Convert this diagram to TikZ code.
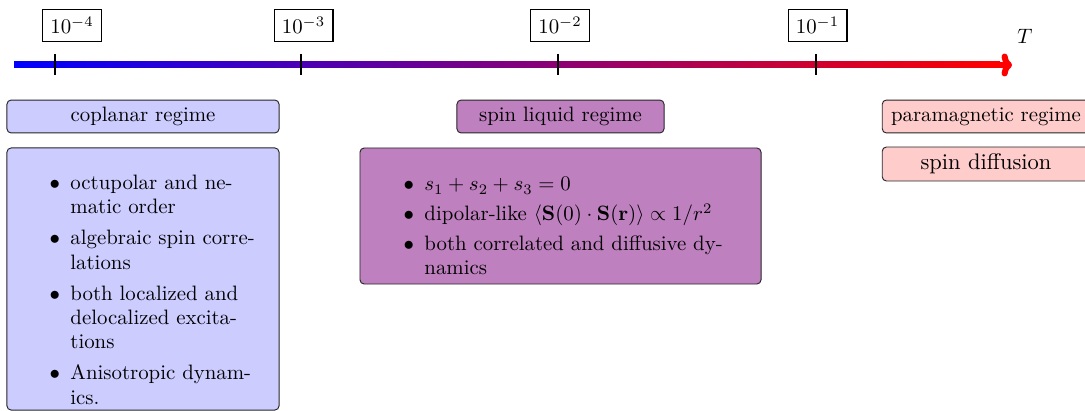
\documentclass[tikz,border=0pt]{standalone}
\usetikzlibrary{arrows.meta}
\definecolor{copl}{RGB}{204,204,255}
\definecolor{sliq}{RGB}{191,128,191}
\definecolor{para}{RGB}{255,204,204}
\newenvironment{featlist}[1]{\raggedright\begin{list}{$\bullet$}{\setlength{\leftmargin}{0pt}\setlength{\labelwidth}{1em}\setlength{\labelsep}{0.5em}\setlength{\itemsep}{#1}\setlength{\parsep}{0pt}\setlength{\topsep}{0pt}\setlength{\partopsep}{0pt}\setlength{\itemindent}{0pt}\setlength{\listparindent}{0pt}}}{\end{list}}
\tikzset{
  x=0.48pt, y=-0.48pt,
  tickmark/.style={line width=1.3pt, black},
  explabel/.style={draw, line width=0.5pt, minimum width=28.3pt, minimum height=15.8pt, inner sep=0pt, font=\fontsize{10}{12}\selectfont},
  regbox/.style={draw=black!85, line width=0.45pt, rounded corners=2pt, inner sep=0pt, font=\fontsize{10}{12}\selectfont},
  bodytext/.style={anchor=base west, inner sep=0pt, align=left},
}
\begin{document}
\begin{tikzpicture}
\useasboundingbox (0,0) rectangle (1085,411);
% temperature axis
\coordinate (ax0) at (14,65);
\coordinate (ax1) at (1000,65);
\coordinate (axend) at (1012,65);
\shade[left color=blue, right color=red] (14,62) rectangle (1000,68);
\draw[red, line width=2.9pt, -{To[length=5pt,width=11pt]}] (990,65) -- (axend);
\node (tl) at (1025,36) {$T$};
% ticks
\draw[tickmark] (55,54) -- (55,75);
\draw[tickmark] (301,54) -- (301,75);
\draw[tickmark] (558,54) -- (558,75);
\draw[tickmark] (816,54) -- (816,75);
% tick labels
\node[explabel] (l4) at (72,25.5) {$10^{-4}$};
\node[explabel] (l3) at (303.5,25.5) {$10^{-3}$};
\node[explabel] (l2) at (560,25.5) {$10^{-2}$};
\node[explabel] (l1) at (817.5,25.5) {$10^{-1}$};
% regime titles
\node[regbox, fill=copl, minimum width=130.6pt, minimum height=15.8pt] (cop) at (143,116.5) {coplanar regime};
\node[regbox, fill=sliq, minimum width=99.4pt, minimum height=15.8pt] (sl) at (560.5,116.5) {spin liquid regime};
\node[regbox, fill=para, minimum width=99.6pt, minimum height=15.8pt] (pm) at (986,116.5) {paramagnetic regime};
\node[regbox, fill=para, minimum width=99.6pt, minimum height=16.3pt, font=\fontsize{10.8}{13}\selectfont] (sd) at (986,164) {spin diffusion};
% bodies
\node[regbox, fill=copl, minimum width=130.6pt, minimum height=125.8pt] (copbody) at (143,279) {};
\node[regbox, fill=sliq, minimum width=192.5pt, minimum height=65.3pt] (slbody) at (560.5,216) {};
\node[bodytext, text width=95pt, font=\fontsize{10}{11.7}\selectfont] (coptext) at (70,165) {%
\begin{featlist}{3.2pt}
\item octupolar and ne-\newline matic order
\item algebraic spin corre-\newline lations
\item both localized and\newline delocalized excita-\newline tions
\item Anisotropic dynam-\newline ics.
\end{featlist}};
\node[bodytext, text width=160pt, font=\fontsize{10}{11.5}\selectfont] (sltext) at (424,167) {%
\begin{featlist}{2.8pt}
\item $s_1+s_2+s_3=0$
\item dipolar-like $\langle \mathbf{S}(0)\cdot\mathbf{S}(\mathbf{r})\rangle \propto 1/r^2$
\item both correlated and diffusive dy-\newline namics
\end{featlist}};
\end{tikzpicture}
\end{document}
